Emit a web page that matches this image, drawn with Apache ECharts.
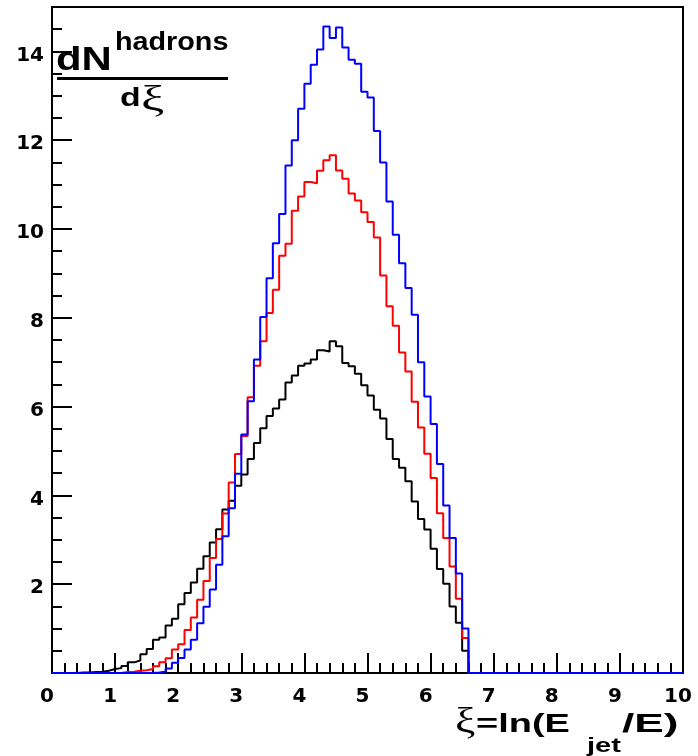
<!DOCTYPE html>
<html>
<head>
<meta charset="utf-8">
<script src="https://cdn.jsdelivr.net/npm/echarts@6/dist/echarts.min.js"></script>
<style>
  html, body { margin: 0; padding: 0; background: #fff; }
  #chart { width: 698px; height: 756px; }
</style>
</head>
<body>
<div id="chart"></div>
<script>
// Histogram binning: 100 bins of width 0.1 on xi = ln(E_jet/E), 0..10
const xRange = [0, 10];
const yRange = [0, 15];
const nBins = 100;

// dN/dxi per bin (black, red, blue)
const blackCounts = [
  0, 0, 0, 0, 0.01, 0.01, 0.02, 0.03, 0.05, 0.09,
  0.11, 0.16, 0.24, 0.28, 0.42, 0.54, 0.75, 0.80, 1.07, 1.22,
  1.55, 1.80, 2.04, 2.35, 2.63, 2.94, 3.24, 3.68, 3.88, 4.22,
  4.47, 4.82, 5.18, 5.51, 5.79, 5.96, 6.16, 6.54, 6.70, 6.92,
  6.97, 7.06, 7.27, 7.24, 7.47, 7.36, 6.98, 6.91, 6.74, 6.48,
  6.25, 5.93, 5.73, 5.27, 4.82, 4.62, 4.32, 3.86, 3.47, 3.23,
  2.80, 2.34, 2.01, 1.50, 1.13, 0.50, 0, 0, 0, 0,
  0, 0, 0, 0, 0, 0, 0, 0, 0, 0,
  0, 0, 0, 0, 0, 0, 0, 0, 0, 0,
  0, 0, 0, 0, 0, 0, 0, 0, 0, 0
];
const redCounts = [
  0, 0, 0, 0, 0, 0, 0, 0, 0, 0,
  0, 0.02, 0.03, 0.05, 0.06, 0.09, 0.15, 0.24, 0.33, 0.53,
  0.65, 0.97, 1.25, 1.65, 2.07, 2.59, 3.02, 3.59, 4.29, 4.93,
  5.34, 6.21, 6.92, 7.47, 8.11, 8.63, 9.40, 9.67, 10.41, 10.73,
  11.06, 11.03, 11.31, 11.55, 11.66, 11.32, 11.13, 10.80, 10.64, 10.38,
  10.16, 9.81, 8.95, 8.26, 7.82, 7.22, 6.79, 6.11, 5.53, 4.94,
  4.39, 3.60, 3.04, 2.40, 1.67, 0.79, 0, 0, 0, 0,
  0, 0, 0, 0, 0, 0, 0, 0, 0, 0,
  0, 0, 0, 0, 0, 0, 0, 0, 0, 0,
  0, 0, 0, 0, 0, 0, 0, 0, 0, 0
];
const blueCounts = [
  0, 0, 0, 0, 0, 0, 0, 0, 0, 0,
  0, 0, 0, 0, 0, 0, 0.01, 0.03, 0.10, 0.23,
  0.34, 0.53, 0.75, 1.12, 1.49, 1.88, 2.44, 3.08, 3.71, 4.49,
  5.37, 6.12, 7.06, 8.02, 8.89, 9.68, 10.34, 11.43, 12.00, 12.71,
  13.27, 13.70, 14.04, 14.56, 14.30, 14.54, 14.09, 13.81, 13.72, 13.09,
  12.96, 12.21, 11.50, 10.62, 9.87, 9.23, 8.67, 8.07, 7.00, 6.23,
  5.61, 4.71, 3.77, 3.04, 2.24, 1.00, 0, 0, 0, 0,
  0, 0, 0, 0, 0, 0, 0, 0, 0, 0,
  0, 0, 0, 0, 0, 0, 0, 0, 0, 0,
  0, 0, 0, 0, 0, 0, 0, 0, 0, 0
];

const xTickLabels = [0, 1, 2, 3, 4, 5, 6, 7, 8, 9, 10];
const yTickLabels = [2, 4, 6, 8, 10, 12, 14];

// Step outline of a histogram: one point per low bin edge plus the closing edge
function histPoints(counts) {
  const w = (xRange[1] - xRange[0]) / nBins;
  const pts = counts.map((c, i) => [+(xRange[0] + i * w).toFixed(4), c]);
  pts.push([xRange[1], counts[counts.length - 1]]);
  return pts;
}

const labelFont = {
  fontFamily: 'DejaVu Sans',
  fontWeight: 'bold',
  fontSize: 20,
  color: '#000'
};

function histSeries(counts, color) {
  return {
    type: 'line',
    data: histPoints(counts),
    step: 'end',
    showSymbol: false,
    symbol: 'none',
    clip: false,
    lineStyle: { color: color, width: 2 },
    emphasis: { disabled: true },
    animation: false
  };
}

const sansBold = '"Liberation Sans", Arial, sans-serif';
const greek = '"Liberation Serif", "DejaVu Serif", serif';

function label(text, x, y, font, scaleX, align) {
  return {
    type: 'text', x: x, y: y, scaleX: scaleX, silent: true,
    style: { text: text, font: font, fill: '#000', textAlign: align || 'left', textVerticalAlign: 'middle' }
  };
}

const chart = echarts.init(document.getElementById('chart'), null, { renderer: 'canvas' });

chart.setOption({
  animation: false,
  backgroundColor: '#fff',
  grid: {
    left: 52, right: 15, top: 7, bottom: 83,
    show: true, borderColor: '#000', borderWidth: 2, backgroundColor: 'transparent'
  },
  xAxis: {
    type: 'value',
    min: xRange[0], max: xRange[1], interval: 1,
    axisLine: { show: true, onZero: false, lineStyle: { color: '#000', width: 2 } },
    axisTick: { show: true, inside: true, length: 20, lineStyle: { color: '#000', width: 2 } },
    minorTick: { show: true, splitNumber: 5, length: 10, lineStyle: { color: '#000', width: 2 } },
    splitLine: { show: false },
    axisLabel: Object.assign({}, labelFont, {
      margin: 14,
      padding: [0, 10, 0, 0],
      formatter: v => xTickLabels.includes(v) ? String(v) : ''
    })
  },
  yAxis: [
    {
      type: 'value',
      min: yRange[0], max: yRange[1], interval: 2,
      axisLine: { show: true, onZero: false, lineStyle: { color: '#000', width: 2 } },
      axisTick: { show: true, inside: true, length: 20, lineStyle: { color: '#000', width: 2 } },
      splitLine: { show: false },
      axisLabel: Object.assign({}, labelFont, {
        margin: 8,
        verticalAlign: 'top',
        lineHeight: 8,
        formatter: v => yTickLabels.includes(v) ? String(v) : ''
      })
    },
    {
      // fine ticks every 0.5 on the same scale
      type: 'value',
      position: 'left',
      min: yRange[0], max: yRange[1], interval: 0.5,
      axisLine: { show: false },
      axisTick: { show: true, inside: true, length: 10, lineStyle: { color: '#000', width: 2 } },
      axisLabel: { show: false },
      splitLine: { show: false }
    }
  ],
  series: [
    histSeries(blackCounts, '#000000'),
    histSeries(redCounts, '#ff0000'),
    histSeries(blueCounts, '#0000ff')
  ],
  graphic: [
    // y title: dN^hadrons over dxi
    label('dN', 56, 60.5, 'bold 33px ' + sansBold, 1.27),
    label('hadrons', 115, 43.5, 'bold 25px ' + sansBold, 1.15),
    { type: 'line', silent: true,
      shape: { x1: 57, y1: 78.5, x2: 228, y2: 78.5 },
      style: { stroke: '#000', lineWidth: 3 } },
    label('d', 120, 99, 'bold 26px ' + sansBold, 1.3),
    label('\u03be', 141, 100.5, '36px ' + greek, 1.45),
    // x title: xi = ln(E_jet / E)
    label('\u03be', 455, 722.5, '36px ' + greek, 1.27),
    label('=ln(E', 476, 725.2, 'bold 26px ' + sansBold, 1.46),
    label('jet', 587, 746.3, 'bold 20px ' + sansBold, 1.45),
    label('/E)', 622, 725.2, 'bold 26px ' + sansBold, 1.7)
  ]
});
</script>
</body>
</html>
